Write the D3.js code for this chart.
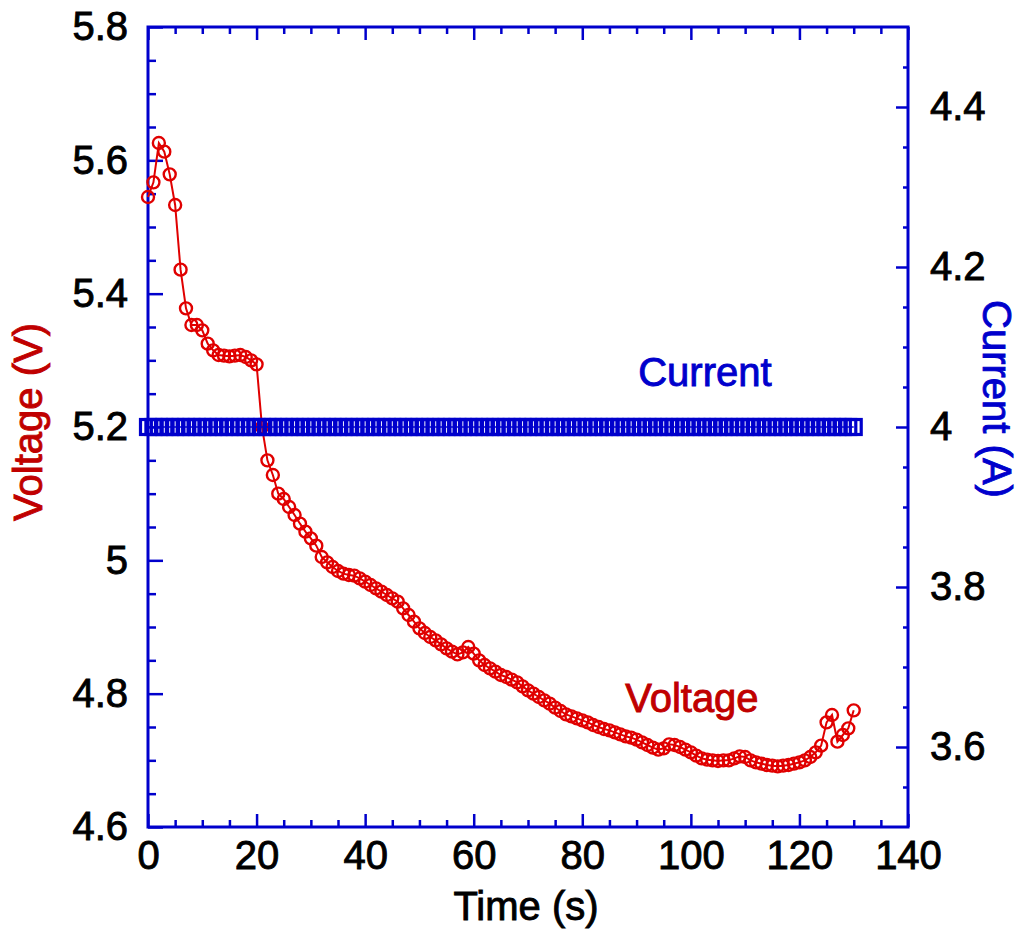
<!DOCTYPE html>
<html>
<head>
<meta charset="utf-8">
<script src="https://d3js.org/d3.v7.min.js"></script>
<style>
  html, body { margin: 0; padding: 0; background: #fff; }
  svg { display: block; }
  text { font-family: "Liberation Sans", Arial, Helvetica, sans-serif; }
</style>
</head>
<body>
<script>
// ---------- data ----------
const timeS = [0,1,2,3,4,5,6,7,8,9,10,11,12,13,14,15,16,17,18,19,20,21,22,23,24,25,26,27,28,29,30,
  31,32,33,34,35,36,37,38,39,40,41,42,43,44,45,46,47,48,49,50,51,52,53,54,55,56,57,58,59,60,
  61,62,63,64,65,66,67,68,69,70,71,72,73,74,75,76,77,78,79,80,81,82,83,84,85,86,87,88,89,90,
  91,92,93,94,95,96,97,98,99,100,101,102,103,104,105,106,107,108,109,110,111,112,113,114,115,
  116,117,118,119,120,121,122,123,124,125,126,127,128,129,130];

const voltageV = [5.545,5.567,5.626,5.613,5.579,5.533,5.436,5.378,5.353,5.353,5.345,5.325,5.315,5.308,5.307,5.306,5.307,5.308,5.305,5.300,5.294,
  5.200,5.150,5.128,5.100,5.092,5.080,5.068,5.055,5.043,5.033,5.022,5.005,4.997,4.990,4.984,4.980,4.978,4.977,4.973,4.968,
  4.963,4.958,4.953,4.948,4.943,4.938,4.928,4.918,4.908,4.898,4.891,4.885,4.880,4.874,4.868,4.863,4.859,4.862,4.870,4.860,
  4.850,4.843,4.838,4.833,4.828,4.825,4.821,4.817,4.811,4.805,4.800,4.795,4.790,4.785,4.779,4.774,4.769,4.766,4.763,4.760,
  4.757,4.753,4.750,4.747,4.745,4.742,4.739,4.736,4.734,4.731,4.727,4.723,4.719,4.716,4.718,4.724,4.723,4.720,4.716,4.712,
  4.707,4.703,4.701,4.700,4.699,4.700,4.700,4.703,4.706,4.705,4.700,4.697,4.695,4.693,4.692,4.691,4.692,4.693,4.695,4.697,
  4.700,4.705,4.712,4.722,4.757,4.768,4.728,4.738,4.748,4.775];

const currentA = [4,4,4,4,4,4,4,4,4,4,4,4,4,4,4,4,4,4,4,4,4,4,4,4,4,4,4,4,4,4,4,
  4,4,4,4,4,4,4,4,4,4,4,4,4,4,4,4,4,4,4,4,4,4,4,4,4,4,4,4,4,4,
  4,4,4,4,4,4,4,4,4,4,4,4,4,4,4,4,4,4,4,4,4,4,4,4,4,4,4,4,4,4,
  4,4,4,4,4,4,4,4,4,4,4,4,4,4,4,4,4,4,4,4,4,4,4,4,4,4,4,4,4,4,
  4,4,4,4,4,4,4,4,4,4];

const xTicks = [0,20,40,60,80,100,120,140];
const xMinor = [5,10,15,25,30,35,45,50,55,65,70,75,85,90,95,105,110,115,125,130,135];
const vTicks = [4.6,4.8,5.0,5.2,5.4,5.6,5.8];
const vTickLabels = ["4.6","4.8","5","5.2","5.4","5.6","5.8"];
const vMinor = [4.65,4.7,4.75,4.85,4.9,4.95,5.05,5.1,5.15,5.25,5.3,5.35,5.45,5.5,5.55,5.65,5.7,5.75];
const aTicks = [3.6,3.8,4.0,4.2,4.4];
const aTickLabels = ["3.6","3.8","4","4.2","4.4"];
const aMinor = [3.55,3.65,3.7,3.75,3.85,3.9,3.95,4.05,4.1,4.15,4.25,4.3,4.35,4.45];

// ---------- layout ----------
const W = 1021, H = 937;
const L = 148, R = 908, T = 27, B = 827;
const BLUE = "#0000cc", RED = "#e00000", DARKRED = "#c00000";
const FS = 40;

const svg = d3.select("body").append("svg").attr("width", W).attr("height", H);

const x = d3.scaleLinear().domain([0, 140]).range([L, R]);
const yV = d3.scaleLinear().domain([4.6, 5.8]).range([B, T]);
const yA = d3.scaleLinear().domain([3.5, 4.5]).range([B, T]);

function heavy(sel, color) {
  sel.attr("fill", color).attr("stroke", color).attr("stroke-width", 0.9)
    .style("font-size", FS + "px");
}

function styleAxis(g) {
  g.select(".domain").remove();
  g.selectAll(".tick line").attr("stroke", BLUE).attr("stroke-width", 2.5);
  g.selectAll(".tick text").call(heavy, "#000")
    .style("font-family", '"Liberation Sans", Arial, sans-serif');
}

// bottom axis
svg.append("g").attr("transform", `translate(0,${B})`)
  .call(d3.axisBottom(x).tickValues(xTicks).tickSizeInner(-13).tickSizeOuter(0).tickPadding(14).tickFormat(d3.format("d")))
  .call(styleAxis);
svg.append("g").attr("transform", `translate(0,${B})`)
  .call(d3.axisBottom(x).tickValues(xMinor).tickSizeInner(-7).tickSizeOuter(0).tickFormat(""))
  .call(styleAxis);
// top axis (ticks only)
svg.append("g").attr("transform", `translate(0,${T})`)
  .call(d3.axisTop(x).tickValues(xTicks).tickSizeInner(-13).tickSizeOuter(0).tickFormat(""))
  .call(styleAxis);
svg.append("g").attr("transform", `translate(0,${T})`)
  .call(d3.axisTop(x).tickValues(xMinor).tickSizeInner(-7).tickSizeOuter(0).tickFormat(""))
  .call(styleAxis);

// left axis
svg.append("g").attr("transform", `translate(${L},0)`)
  .call(d3.axisLeft(yV).tickValues(vTicks).tickSizeInner(-15).tickSizeOuter(0).tickPadding(20)
    .tickFormat((d, i) => vTickLabels[i]))
  .call(styleAxis);
svg.append("g").attr("transform", `translate(${L},0)`)
  .call(d3.axisLeft(yV).tickValues(vMinor).tickSizeInner(-8).tickSizeOuter(0).tickFormat(""))
  .call(styleAxis);

// right axis
svg.append("g").attr("transform", `translate(${R},0)`)
  .call(d3.axisRight(yA).tickValues(aTicks).tickSizeInner(-12).tickSizeOuter(0).tickPadding(22)
    .tickFormat((d, i) => aTickLabels[i]))
  .call(styleAxis);
svg.append("g").attr("transform", `translate(${R},0)`)
  .call(d3.axisRight(yA).tickValues(aMinor).tickSizeInner(-5).tickSizeOuter(0).tickFormat(""))
  .call(styleAxis);

// frame
svg.append("rect").attr("x", L).attr("y", T).attr("width", R - L).attr("height", B - T)
  .attr("fill", "none").attr("stroke", BLUE).attr("stroke-width", 3);

// ---------- voltage series ----------
const vData = timeS.map((t, i) => ({ t, v: voltageV[i] }));
svg.append("path").datum(vData)
  .attr("fill", "none").attr("stroke", RED).attr("stroke-width", 2)
  .attr("d", d3.line().x(d => x(d.t)).y(d => yV(d.v)));
svg.append("g").selectAll("circle").data(vData).join("circle")
  .attr("cx", d => x(d.t)).attr("cy", d => yV(d.v)).attr("r", 6)
  .attr("fill", "none").attr("stroke", RED).attr("stroke-width", 2.4);

// ---------- current series ----------
const aData = timeS.map((t, i) => ({ t, a: currentA[i] }));
const SQ = 15;
svg.append("g").selectAll("rect").data(aData).join("rect")
  .attr("x", d => x(d.t) - SQ / 2).attr("y", d => yA(d.a) - SQ / 2)
  .attr("width", SQ).attr("height", SQ)
  .attr("fill", "none").attr("stroke", BLUE).attr("stroke-width", 3.2);
svg.append("path").datum(aData)
  .attr("fill", "none").attr("stroke", BLUE).attr("stroke-width", 1.6)
  .attr("d", d3.line().x(d => x(d.t)).y(d => yA(d.a)));

// ---------- labels ----------
svg.append("text").attr("x", (L + R) / 2 - 2).attr("y", 920).attr("text-anchor", "middle")
  .call(heavy, "#000").text("Time (s)");

svg.append("text").attr("transform", `translate(42,422) rotate(-90)`)
  .attr("text-anchor", "middle").call(heavy, DARKRED).text("Voltage (V)");

svg.append("text").attr("transform", `translate(983,399) rotate(90)`)
  .attr("text-anchor", "middle").call(heavy, BLUE).text("Current (A)");

svg.append("text").attr("x", x(90.3)).attr("y", yV(5.262))
  .call(heavy, BLUE).text("Current");
svg.append("text").attr("x", x(87.9)).attr("y", yV(4.772))
  .call(heavy, DARKRED).text("Voltage");
</script>
</body>
</html>
